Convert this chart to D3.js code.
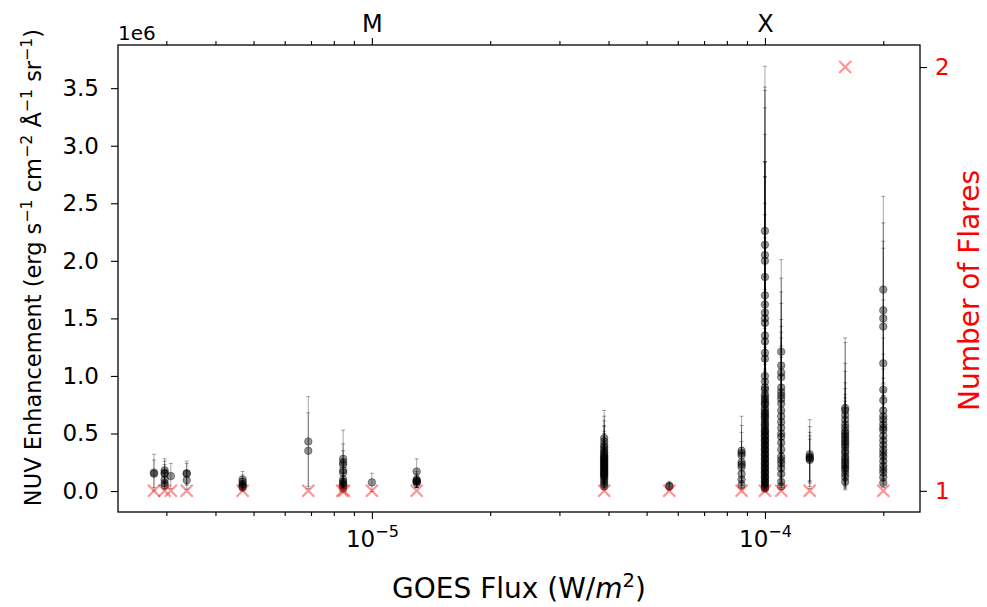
<!DOCTYPE html>
<html>
<head>
<meta charset="utf-8">
<script src="https://cdn.jsdelivr.net/npm/d3@7"></script>
<style>
  body { margin: 0; background: #fff; }
  svg { display: block; }
  text { font-family: "DejaVu Sans", sans-serif; }
</style>
</head>
<body>
<div id="chart"></div>
<script>
// NUV enhancement per flare vs GOES peak flux, with a flare-count overlay
// on a twin y axis. Values are in units of 1e6 erg s^-1 cm^-2 A^-1 sr^-1.

const flareFlux = [2.79e-6, 2.97e-6, 3.08e-6, 3.38e-6, 4.69e-6, 6.89e-6, 8.45e-6,
  1.0e-5, 1.30e-5, 3.9e-5, 5.71e-5, 8.72e-5, 1.0e-4, 1.10e-4, 1.30e-4, 1.60e-4, 2.0e-4];

const nuvValues = [
  [0.16, 0.15],
  [0.18, 0.16, 0.15, 0.10, 0.07, 0.05],
  [0.13],
  [0.155, 0.095, 0.15],
  [0.10, 0.08, 0.06, 0.05, 0.04, 0.03],
  [0.43, 0.35],
  [0.28, 0.25, 0.23, 0.18, 0.16, 0.10, 0.08, 0.07, 0.05, 0.04, 0.02],
  [0.075],
  [0.17, 0.10, 0.09, 0.085, 0.08, 0.07],
  [0.46, 0.43, 0.40, 0.38, 0.36, 0.34, 0.33, 0.31, 0.30, 0.29, 0.28, 0.27, 0.26, 0.25, 0.24, 0.23,
   0.22, 0.21, 0.20, 0.19, 0.18, 0.17, 0.16, 0.15, 0.14, 0.13, 0.12, 0.10, 0.08, 0.06, 0.04],
  [0.045, 0.04],
  [0.35, 0.33, 0.31, 0.25, 0.23, 0.21, 0.15, 0.10, 0.05],
  [2.26, 2.14, 2.05, 2.00, 1.86, 1.70, 1.62, 1.55, 1.50, 1.46, 1.35, 1.30, 1.20, 1.15, 1.00, 0.95,
   0.90, 0.88, 0.84, 0.82, 0.80, 0.78, 0.76, 0.75, 0.72, 0.70, 0.68, 0.67, 0.65, 0.64, 0.62, 0.60,
   0.58, 0.57, 0.55, 0.53, 0.52, 0.51, 0.49, 0.48, 0.47, 0.45, 0.44, 0.43, 0.41, 0.40, 0.39, 0.37,
   0.36, 0.35, 0.33, 0.32, 0.31, 0.29, 0.28, 0.27, 0.25, 0.24, 0.23, 0.21, 0.20, 0.19, 0.17, 0.16,
   0.15, 0.13, 0.12, 0.11, 0.09, 0.08, 0.07, 0.05, 0.04, 0.03, 0.02],
  [1.21, 1.09, 1.03, 0.99, 0.90, 0.86, 0.83, 0.80, 0.76, 0.70, 0.65, 0.60, 0.55, 0.50, 0.47, 0.42,
   0.36, 0.30, 0.27, 0.24, 0.20, 0.15, 0.08, 0.04],
  [0.32, 0.30, 0.29, 0.28, 0.27],
  [0.72, 0.70, 0.66, 0.62, 0.58, 0.55, 0.52, 0.50, 0.48, 0.46, 0.44, 0.42, 0.40, 0.38, 0.35, 0.33,
   0.30, 0.28, 0.26, 0.24, 0.22, 0.20, 0.18, 0.15, 0.12, 0.08],
  [1.75, 1.57, 1.50, 1.43, 1.11, 0.88, 0.79, 0.70, 0.65, 0.62, 0.58, 0.55, 0.53, 0.48, 0.44, 0.40,
   0.36, 0.33, 0.30, 0.26, 0.22, 0.19, 0.16, 0.12, 0.07]
];

const nuvErrors = [
  [0.16, 0.12],
  [0.10, 0.10, 0.08, 0.06, 0.05, 0.04],
  [0.11],
  [0.105, 0.08, 0.09],
  [0.07, 0.06, 0.05, 0.04, 0.03, 0.03],
  [0.39, 0.33],
  [0.25, 0.16, 0.12, 0.10, 0.08, 0.06, 0.05, 0.04, 0.03, 0.03, 0.02],
  [0.08],
  [0.11, 0.07, 0.06, 0.05, 0.05, 0.04],
  [0.24, 0.22, 0.21, 0.19, 0.20, 0.18, 0.17, 0.16, 0.16, 0.15, 0.15, 0.14, 0.14, 0.13, 0.13, 0.12,
   0.12, 0.11, 0.11, 0.10, 0.10, 0.09, 0.09, 0.08, 0.08, 0.07, 0.07, 0.06, 0.05, 0.04, 0.03],
  [0.04, 0.03],
  [0.30, 0.24, 0.20, 0.18, 0.15, 0.12, 0.10, 0.07, 0.04],
  [1.43, 1.37, 1.43, 1.33, 1.24, 1.16, 1.24, 1.31, 1.23, 1.27, 1.15, 1.10, 1.00, 0.96, 0.86, 0.80,
   0.76, 0.74, 0.72, 0.70, 0.68, 0.66, 0.65, 0.63, 0.60, 0.58, 0.57, 0.56, 0.55, 0.53, 0.52, 0.50,
   0.48, 0.47, 0.46, 0.44, 0.43, 0.42, 0.41, 0.40, 0.39, 0.37, 0.36, 0.36, 0.34, 0.33, 0.32, 0.31,
   0.30, 0.29, 0.27, 0.26, 0.26, 0.24, 0.23, 0.22, 0.21, 0.20, 0.19, 0.17, 0.16, 0.16, 0.14, 0.13,
   0.12, 0.11, 0.10, 0.09, 0.07, 0.07, 0.06, 0.04, 0.03, 0.03, 0.02],
  [0.80, 0.76, 0.70, 0.64, 0.59, 0.57, 0.55, 0.53, 0.50, 0.46, 0.43, 0.40, 0.37, 0.33, 0.31, 0.28,
   0.24, 0.20, 0.18, 0.16, 0.13, 0.10, 0.05, 0.03],
  [0.30, 0.26, 0.22, 0.20, 0.18],
  [0.61, 0.59, 0.45, 0.42, 0.36, 0.34, 0.32, 0.31, 0.30, 0.29, 0.28, 0.27, 0.26, 0.25, 0.23, 0.22,
   0.20, 0.19, 0.18, 0.17, 0.16, 0.15, 0.14, 0.12, 0.10, 0.07],
  [0.81, 0.76, 0.67, 0.68, 0.55, 0.45, 0.40, 0.36, 0.33, 0.31, 0.29, 0.28, 0.27, 0.24, 0.22, 0.20,
   0.18, 0.17, 0.15, 0.13, 0.11, 0.10, 0.08, 0.06, 0.04]
];

// flare counts per distinct flux (twin axis)
const countFlux = [2.79e-6, 2.97e-6, 3.08e-6, 3.38e-6, 4.69e-6, 6.89e-6, 8.40e-6, 8.50e-6,
  1.0e-5, 1.30e-5, 3.9e-5, 5.71e-5, 8.72e-5, 1.0e-4, 1.10e-4, 1.30e-4, 1.60e-4, 2.0e-4];
const countN = [1, 1, 1, 1, 1, 1, 1, 1, 1, 1, 1, 1, 1, 1, 1, 1, 2, 1];

const yTicks = [0, 0.5, 1.0, 1.5, 2.0, 2.5, 3.0, 3.5];
const rightTicks = [1, 2];
const majorTicks = [1e-5, 1e-4];
const majorExp = ["\u22125", "\u22124"];
const classLabels = ["M", "X"];
const minorTicks = [3e-6, 4e-6, 5e-6, 6e-6, 7e-6, 8e-6, 9e-6,
  2e-5, 3e-5, 4e-5, 5e-5, 6e-5, 7e-5, 8e-5, 9e-5, 2e-4];

const width = 987, height = 607;
const m = { top: 45, right: 67, bottom: 95, left: 118 };

const svg = d3.select("#chart").append("svg")
  .attr("width", width).attr("height", height)
  .attr("viewBox", `0 0 ${width} ${height}`);

const x = d3.scaleLog().domain([2.26e-6, 2.48e-4]).range([m.left, width - m.right]);
const y = d3.scaleLinear().domain([-0.182, 3.875]).range([height - m.bottom, m.top]);
const y2 = d3.scaleLinear().domain([0.95, 2.052]).range([height - m.bottom, m.top]);

const points = flareFlux.flatMap((f, i) =>
  nuvValues[i].map((v, j) => ({ f, v, e: nuvErrors[i][j] })));

// error bars
const bars = svg.append("g").attr("stroke", "#000").attr("stroke-opacity", 0.35).attr("stroke-width", 1);
points.forEach((p) => {
  const cx = x(p.f);
  bars.append("line").attr("x1", cx).attr("x2", cx)
    .attr("y1", y(p.v - p.e)).attr("y2", y(p.v + p.e));
  [p.v - p.e, p.v + p.e].forEach((yy) => {
    bars.append("line").attr("x1", cx - 2).attr("x2", cx + 2)
      .attr("y1", y(yy)).attr("y2", y(yy));
  });
});

// markers
svg.append("g").selectAll("circle").data(points).join("circle")
  .attr("cx", (d) => x(d.f)).attr("cy", (d) => y(d.v)).attr("r", 3.8)
  .attr("fill", "#000").attr("fill-opacity", 0.42)
  .attr("stroke", "#000").attr("stroke-opacity", 0.42).attr("stroke-width", 0.8);

// flare counts, red crosses
const xs = 6;
const crosses = svg.append("g").attr("stroke", "red").attr("stroke-opacity", 0.42).attr("stroke-width", 2.2);
countFlux.forEach((f, i) => {
  const cx = x(f), cy = y2(countN[i]);
  crosses.append("path").attr("d", `M${cx - xs},${cy - xs}L${cx + xs},${cy + xs}M${cx - xs},${cy + xs}L${cx + xs},${cy - xs}`);
});

// frame
svg.append("rect")
  .attr("x", m.left).attr("y", m.top)
  .attr("width", width - m.left - m.right).attr("height", height - m.top - m.bottom)
  .attr("fill", "none").attr("stroke", "#000").attr("stroke-width", 1.3);

const styleAxis = (g, size) => {
  g.select(".domain").remove();
  g.selectAll(".tick line").attr("stroke", "#000").attr("stroke-width", 1.1);
  g.selectAll("text").attr("fill", "#000").style("font-size", size + "px")
    .style("font-family", '"DejaVu Sans", sans-serif');
};

// bottom axis
const gb = svg.append("g").attr("transform", `translate(0,${height - m.bottom})`)
  .call(d3.axisBottom(x).tickValues(majorTicks).tickSize(7).tickFormat(() => ""))
  .call((g) => styleAxis(g, 23));
gb.selectAll(".tick text").each(function (d, i) {
  const t = d3.select(this).attr("y", 35).attr("dy", null);
  t.append("tspan").text("10");
  t.append("tspan").text(majorExp[i]).attr("dy", -10).style("font-size", "16px");
});
svg.append("g").attr("transform", `translate(0,${height - m.bottom})`)
  .call(d3.axisBottom(x).tickValues(minorTicks).tickSize(4).tickFormat(() => ""))
  .call((g) => styleAxis(g, 10));

// top axis: GOES classes
svg.append("g").attr("transform", `translate(0,${m.top})`)
  .call(d3.axisTop(x).tickValues(majorTicks).tickSize(7).tickPadding(6).tickFormat((d, i) => classLabels[i]))
  .call((g) => styleAxis(g, 24));
svg.append("g").attr("transform", `translate(0,${m.top})`)
  .call(d3.axisTop(x).tickValues(minorTicks).tickSize(4).tickFormat(() => ""))
  .call((g) => styleAxis(g, 10));

// left axis
svg.append("g").attr("transform", `translate(${m.left},0)`)
  .call(d3.axisLeft(y).tickValues(yTicks).tickSize(7).tickPadding(12).tickFormat((d) => d.toFixed(1)))
  .call((g) => styleAxis(g, 23));
svg.append("text").attr("x", m.left).attr("y", 40)
  .style("font-size", "20px").text("1e6");

// right axis
svg.append("g").attr("transform", `translate(${width - m.right},0)`)
  .call(d3.axisRight(y2).tickValues(rightTicks).tickSize(7).tickPadding(8).tickFormat(d3.format("d")))
  .call((g) => styleAxis(g, 23))
  .call((g) => g.selectAll("text").attr("fill", "red"));

// rich labels with superscripts
function rich(sel, parts, size) {
  let up = false;
  parts.forEach(([s, sup, it]) => {
    const t = sel.append("tspan").text(s);
    if (sup) {
      t.style("font-size", size * 0.7 + "px");
      if (!up) { t.attr("dy", -size * 0.4); up = true; }
    } else if (up) { t.attr("dy", size * 0.4); up = false; }
    if (it) t.style("font-style", "italic");
  });
}

const cy = (m.top + height - m.bottom) / 2;
const yl = svg.append("text")
  .attr("transform", `translate(41,${cy - 11}) rotate(-90)`)
  .attr("text-anchor", "middle").style("font-size", "22.5px");
rich(yl, [["NUV Enhancement (erg s"], ["\u22121", 1], [" cm"], ["\u22122", 1], [" \u00c5"], ["\u22121", 1],
  [" sr"], ["\u22121", 1], [")"]], 22.5);

const xl = svg.append("text")
  .attr("x", (m.left + width - m.right) / 2).attr("y", 598)
  .attr("text-anchor", "middle").style("font-size", "28px");
rich(xl, [["GOES Flux (W/"], ["m", 0, 1], ["2", 1], [")"]], 28);

svg.append("text")
  .attr("transform", `translate(979,${cy + 12}) rotate(-90)`)
  .attr("text-anchor", "middle").attr("fill", "red").style("font-size", "28px")
  .text("Number of Flares");
</script>
</body>
</html>
